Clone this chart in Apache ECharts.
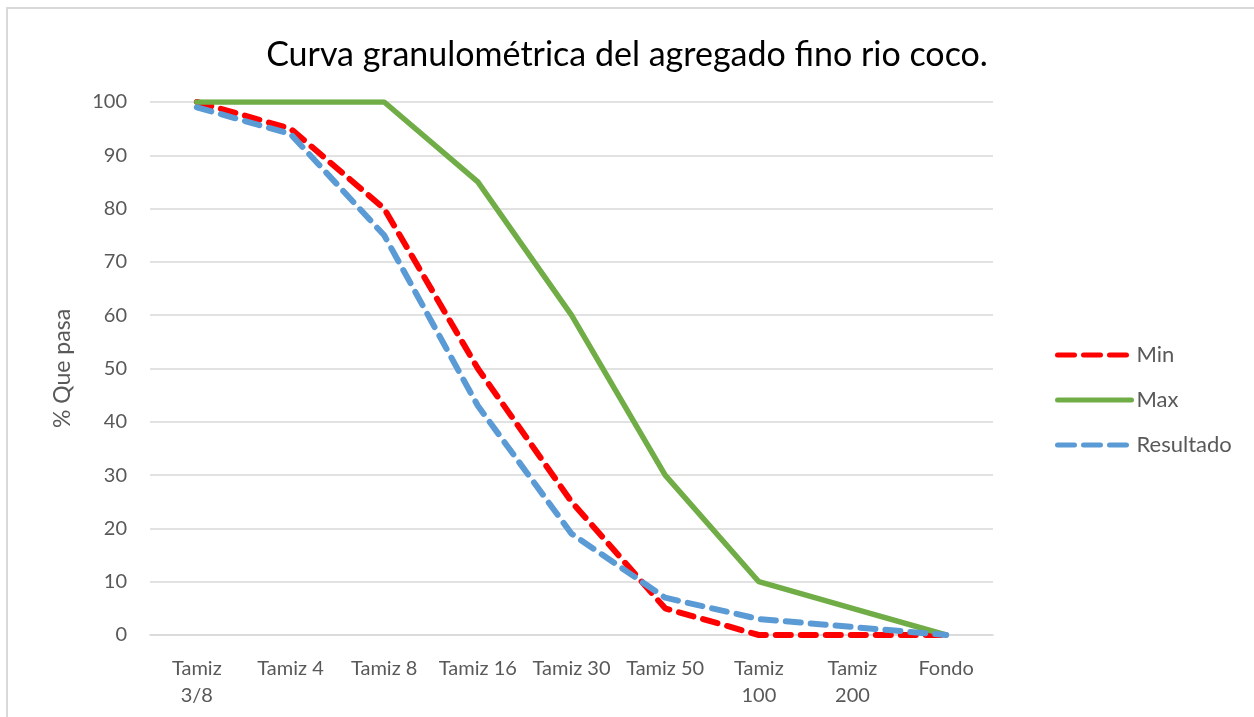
<!DOCTYPE html>
<html>
<head>
<meta charset="utf-8">
<script src="https://cdn.jsdelivr.net/npm/echarts@6/dist/echarts.min.js"></script>
<style>
  html, body { margin: 0; padding: 0; background: #fff; }
  #frame { position: absolute; left: 6px; top: 7px; width: 1270px; height: 730px; border: 2px solid #D9D9D9; box-sizing: border-box; }
  #chart { position: absolute; left: 0; top: 0; width: 1254px; height: 717px; }
</style>
</head>
<body>
<div id="frame"></div>
<div id="chart"></div>
<script>
const categories = ['Tamiz\n3/8', 'Tamiz 4', 'Tamiz 8', 'Tamiz 16', 'Tamiz 30', 'Tamiz 50', 'Tamiz\n100', 'Tamiz\n200', 'Fondo'];
const minData = [100, 95, 80, 50, 25, 5, 0, 0, 0];
const maxData = [100, 100, 100, 85, 60, 30, 10, 5, 0];
const resultadoData = [99, 94, 75, 43, 19, 7, 3, 1.5, 0];
const yTicks = { min: 0, max: 100, interval: 10 };

const myChart = echarts.init(document.getElementById('chart'));

const font = 'Lato, "Open Sans", sans-serif';
const dash = [15, 10];
const legendDash = [17, 9];

const option = {
  animation: false,
  textStyle: { fontFamily: font },
  title: {
    text: 'Curva granulométrica del agregado fino rio coco.',
    left: 'center',
    top: 33,
    textStyle: { fontFamily: font, fontSize: 34, fontWeight: 'normal', color: '#000' }
  },
  legend: {
    orient: 'vertical',
    left: 1050,
    top: 339,
    itemWidth: 74,
    itemHeight: 14,
    itemGap: 23,
    itemStyle: { opacity: 0 },
    textStyle: { fontFamily: font, fontSize: 22, color: '#595959' },
    data: [
      { name: 'Min', lineStyle: { color: '#FF0000', width: 5, type: legendDash, cap: 'round' } },
      { name: 'Max', lineStyle: { color: '#70AD47', width: 5, cap: 'round' } },
      { name: 'Resultado', lineStyle: { color: '#5B9BD5', width: 5, type: legendDash, cap: 'round' } }
    ]
  },
  grid: { left: 150, right: 261, top: 102, bottom: 82 },
  xAxis: {
    type: 'category',
    data: categories,
    boundaryGap: true,
    axisLine: { lineStyle: { color: '#D9D9D9', width: 1.5 } },
    axisTick: { show: false },
    axisLabel: { fontFamily: font, fontSize: 20, color: '#595959', margin: 20, lineHeight: 27, interval: 0 }
  },
  yAxis: {
    type: 'value',
    min: yTicks.min,
    max: yTicks.max,
    interval: yTicks.interval,
    name: '% Que pasa',
    nameLocation: 'middle',
    nameGap: 76,
    nameRotate: 90,
    nameTextStyle: { fontFamily: font, fontSize: 23, color: '#595959' },
    axisLine: { show: false },
    axisTick: { show: false },
    splitLine: { lineStyle: { color: '#D9D9D9', width: 1.5 } },
    axisLabel: { fontFamily: font, fontSize: 20, color: '#595959', margin: 23 }
  },
  series: [
    {
      name: 'Min',
      type: 'line',
      data: minData,
      showSymbol: false,
      symbol: 'none',
      itemStyle: { color: '#FF0000' },
      lineStyle: { color: '#FF0000', width: 6, type: dash, cap: 'round' }
    },
    {
      name: 'Max',
      type: 'line',
      data: maxData,
      showSymbol: false,
      symbol: 'none',
      itemStyle: { color: '#70AD47' },
      lineStyle: { color: '#70AD47', width: 5.5, cap: 'round' }
    },
    {
      name: 'Resultado',
      type: 'line',
      data: resultadoData,
      showSymbol: false,
      symbol: 'none',
      itemStyle: { color: '#5B9BD5' },
      lineStyle: { color: '#5B9BD5', width: 6, type: dash, cap: 'round' }
    }
  ]
};

myChart.setOption(option);
</script>
</body>
</html>
